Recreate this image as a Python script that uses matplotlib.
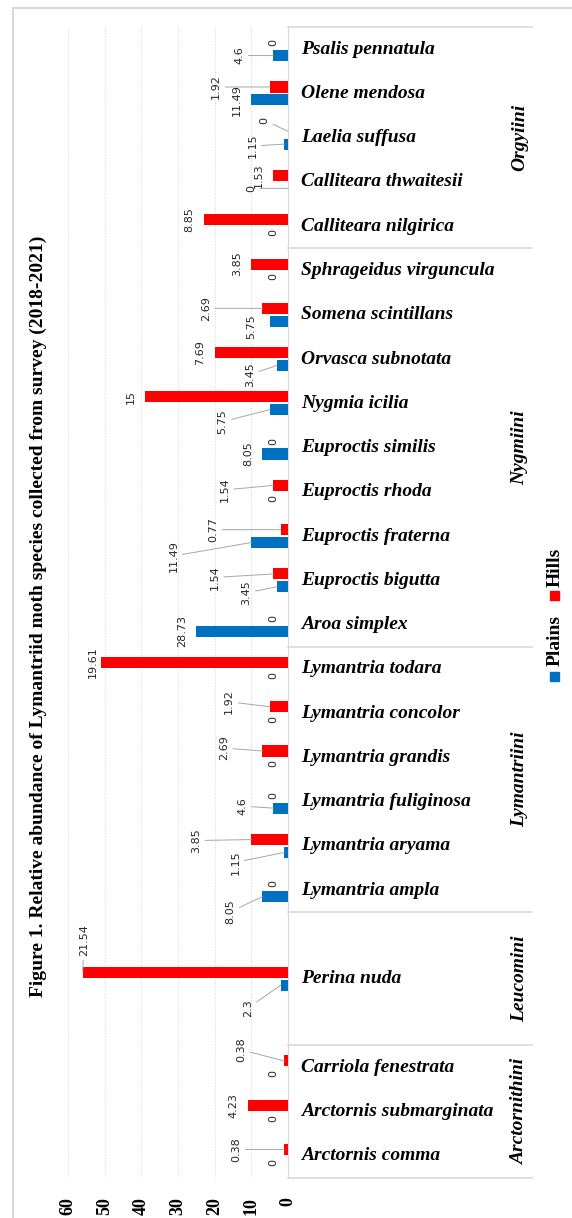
import numpy as np
import matplotlib.pyplot as plt
from matplotlib.transforms import blended_transform_factory
from matplotlib.lines import Line2D
from matplotlib.patches import Rectangle

# categories from bottom to top ('' = empty slot in the tribe block)
species = ['Arctornis comma', 'Arctornis submarginata', 'Carriola fenestrata', '',
           'Perina nuda', '',
           'Lymantria ampla', 'Lymantria aryama', 'Lymantria fuliginosa',
           'Lymantria grandis', 'Lymantria concolor', 'Lymantria todara',
           'Aroa simplex', 'Euproctis bigutta', 'Euproctis fraterna', 'Euproctis rhoda',
           'Euproctis similis', 'Nygmia icilia', 'Orvasca subnotata',
           'Somena scintillans', 'Sphrageidus virguncula',
           'Calliteara nilgirica', 'Calliteara thwaitesii', 'Laelia suffusa',
           'Olene mendosa', 'Psalis pennatula']

# individuals counted (bar length)
plains_n = [0, 0, 0, None, 2, None, 7, 1, 4, 0, 0, 0,
            25, 3, 10, 0, 7, 5, 3, 5, 0, 0, 0, 1, 10, 4]
hills_n = [1, 11, 1, None, 56, None, 0, 10, 0, 7, 5, 51,
           0, 4, 2, 4, 0, 39, 20, 7, 10, 23, 4, 0, 5, 0]

# relative abundance (%) shown as data labels
plains_pct = [0, 0, 0, None, 2.3, None, 8.05, 1.15, 4.6, 0, 0, 0,
              28.73, 3.45, 11.49, 0, 8.05, 5.75, 3.45, 5.75, 0, 0, 0, 1.15, 11.49, 4.6]
hills_pct = [0.38, 4.23, 0.38, None, 21.54, None, 0, 3.85, 0, 2.69, 1.92, 19.61,
             0, 1.54, 0.77, 1.54, 0, 15, 7.69, 2.69, 3.85, 8.85, 1.53, 0, 1.92, 0]

tribes = ['Arctornithini', 'Leucomini', 'Lymantriini', 'Nygmiini', 'Orgyiini']
tribe_slots = [3, 3, 6, 9, 5]

title = ('Figure 1. Relative abundance of Lymantriid moth species '
         'collected from survey (2018-2021)')

BLUE = '#0070c0'
RED = '#ff0000'
GREY = '#d9d9d9'
SERIF = 'Liberation Serif'

# label nudges (pixels) for labels that were dragged away from the bar end
hills_off = {24: (-53.5, 0), 23: (-24, 11), 19: (-56.5, 0), 15: (-48.5, -4.5),
             14: (-67.5, 0), 13: (-58.5, -3.5), 11: (-8, 0), 10: (-40.5, 5),
             9: (-38.5, 3), 7: (-55.5, -1), 4: (1.5, 32), 2: (-43, 11), 0: (-48, 0)}
plains_off = {25: (-34, 0), 23: (-32, -2), 22: (-37, 0), 19: (-18, -5),
              18: (-27, -9), 17: (-47, -12), 14: (-78, -13.5), 13: (-30.5, -6),
              8: (-31, 2), 7: (-49, -10), 6: (-32, -15), 4: (-33, -23)}

W, H = 572, 1218
X0, X1, Y0, Y1 = 68, 288, 27, 1178

fig = plt.figure(figsize=(W / 100, H / 100), dpi=100)
ax = fig.add_axes([X0 / W, 1 - Y1 / H, (X1 - X0) / W, (Y1 - Y0) / H])

n = len(species)
pos = np.arange(n)
used = np.array([v is not None for v in plains_n])
p_vals = np.array([v if v is not None else 0 for v in plains_n], float)
h_vals = np.array([v if v is not None else 0 for v in hills_n], float)

bw, sh = 0.25, 0.145
ax.barh(pos[used] + sh, h_vals[used], height=bw, color=RED, zorder=3)
ax.barh(pos[used] - sh, p_vals[used], height=bw, color=BLUE, zorder=3)

ax.set_xlim(60, 0)
ax.set_ylim(-0.5, n - 0.5)


def put_label(val, y, pct, off):
    if off is None:
        ox, oy = -14.5, 0
    else:
        ox, oy = off
    lead = np.hypot(ox + 14.5, oy) > 8
    ax.annotate('{:g}'.format(pct), xy=(val, y), xytext=(ox, oy),
                textcoords='offset pixels', rotation=90, ha='center', va='center',
                fontsize=8, family='DejaVu Sans', color='#262626', zorder=4,
                arrowprops=dict(arrowstyle='-', color='#a6a6a6', lw=0.7,
                                shrinkA=1, shrinkB=0) if lead else None)


for i in pos[used]:
    put_label(h_vals[i], i + sh, hills_pct[i], hills_off.get(i))
    put_label(p_vals[i], i - sh, plains_pct[i], plains_off.get(i))

# axes styling
for s in ['left', 'top', 'bottom']:
    ax.spines[s].set_visible(False)
ax.spines['right'].set_color(GREY)
ax.set_yticks([])
ticks = list(range(0, 61, 10))
ax.set_xticks(ticks, labels=[str(t) for t in ticks], rotation=90,
              fontfamily=SERIF, fontweight='bold', fontsize=13)
ax.tick_params(axis='x', length=0, pad=14)
ax.grid(axis='x', color=GREY, linestyle=(0, (1, 1.5)), lw=0.8, zorder=0)

# category labels and tribe blocks
tr = blended_transform_factory(ax.transAxes, ax.transData)
span = X1 - X0
for i, name in enumerate(species):
    if name:
        ax.text(1 + 13 / span, i, name, transform=tr, ha='left', va='center',
                family=SERIF, weight='bold', style='italic', fontsize=14)

bounds = np.cumsum([0] + tribe_slots) - 0.5
for b in bounds:
    ax.add_line(Line2D([1, (532 - X0) / span], [b, b], transform=tr, color=GREY,
                       lw=1.2, clip_on=False))
for t, lo, hi in zip(tribes, bounds[:-1], bounds[1:]):
    ax.text((520 - X0) / span, (lo + hi) / 2, t, transform=tr, rotation=90,
            ha='center', va='center', family=SERIF, weight='bold', style='italic',
            fontsize=14)

# title
fig.text(38 / W, 1 - 616 / H, title, rotation=90, ha='center', va='center',
         family=SERIF, weight='bold', fontsize=14)

# legend
fig.add_artist(Rectangle((550 / W, 1 - 600 / H), 9 / W, 9 / H, color=RED,
                         transform=fig.transFigure))
fig.text(555 / W, 1 - 567 / H, 'Hills', rotation=90, ha='center', va='center',
         family=SERIF, weight='bold', fontsize=14)
fig.add_artist(Rectangle((550 / W, 1 - 681 / H), 9 / W, 9 / H, color=BLUE,
                         transform=fig.transFigure))
fig.text(555 / W, 1 - 640 / H, 'Plains', rotation=90, ha='center', va='center',
         family=SERIF, weight='bold', fontsize=14)

# chart border
fig.add_artist(Line2D([13 / W, 1], [1 - 8 / H, 1 - 8 / H], color=GREY, lw=1.5))
fig.add_artist(Line2D([13 / W, 13 / W], [0, 1 - 8 / H], color=GREY, lw=1.5))

fig.savefig('out.png', dpi=100)
